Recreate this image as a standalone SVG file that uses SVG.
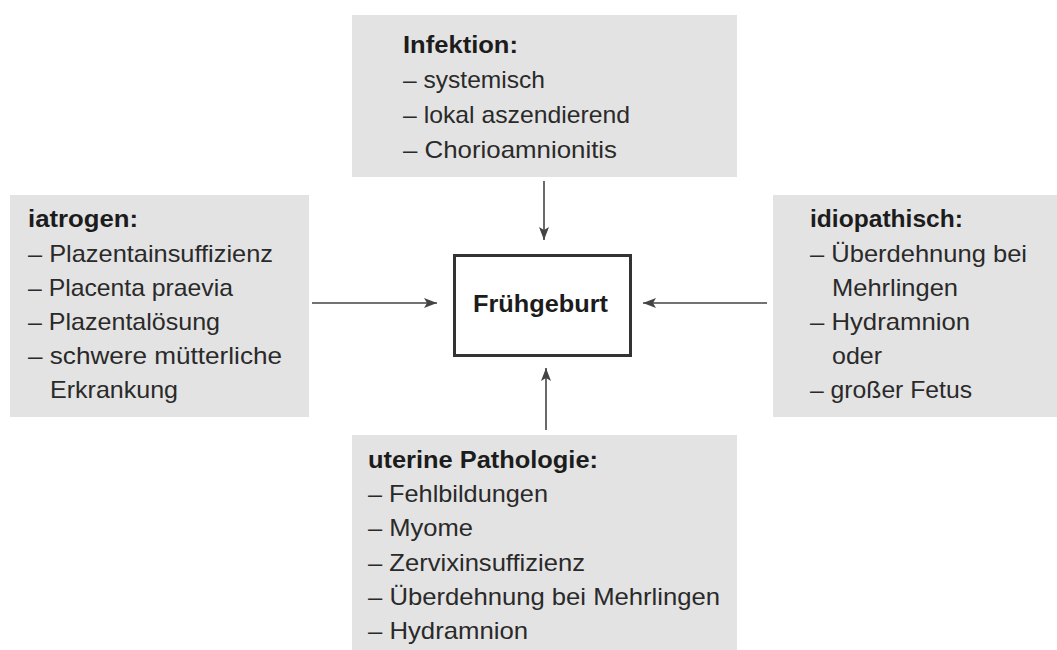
<svg xmlns="http://www.w3.org/2000/svg" width="1057" height="650" viewBox="0 0 1057 650">
<style>
.box{fill:#e3e3e3}
.t{font-family:"Liberation Sans",Arial,sans-serif;font-size:24px;fill:#2a2a2a}
.h{font-weight:bold;fill:#1c1c1c}
.c{stroke:#444;stroke-width:1.6;fill:none}
</style>
<defs>
<marker id="ah" markerUnits="userSpaceOnUse" markerWidth="14" markerHeight="12" viewBox="0 0 14 12" refX="13" refY="6" orient="auto">
<path d="M0,1 L13,6 L0,11 L3,6 Z" fill="#444"/>
</marker>
</defs>
<rect width="1057" height="650" fill="#fff"/>
<g id="infektion">
<rect class="box" x="352" y="15" width="385" height="162"/>
<text class="t h" x="403" y="53" textLength="115" lengthAdjust="spacingAndGlyphs">Infektion:</text>
<text class="t" x="403" y="88" textLength="142" lengthAdjust="spacingAndGlyphs">– systemisch</text>
<text class="t" x="403" y="123" textLength="227" lengthAdjust="spacingAndGlyphs">– lokal aszendierend</text>
<text class="t" x="403" y="158" textLength="214" lengthAdjust="spacingAndGlyphs">– Chorioamnionitis</text>
</g>
<g id="iatrogen">
<rect class="box" x="10" y="195" width="299" height="222"/>
<text class="t h" x="28" y="227" textLength="110" lengthAdjust="spacingAndGlyphs">iatrogen:</text>
<text class="t" x="28" y="262" textLength="245" lengthAdjust="spacingAndGlyphs">– Plazentainsuffizienz</text>
<text class="t" x="28" y="296" textLength="205" lengthAdjust="spacingAndGlyphs">– Placenta praevia</text>
<text class="t" x="28" y="330" textLength="192" lengthAdjust="spacingAndGlyphs">– Plazentalösung</text>
<text class="t" x="28" y="364" textLength="254" lengthAdjust="spacingAndGlyphs">– schwere mütterliche</text>
<text class="t" x="50" y="398" textLength="128" lengthAdjust="spacingAndGlyphs">Erkrankung</text>
</g>
<g id="idiopathisch">
<rect class="box" x="773" y="195" width="284" height="222"/>
<text class="t h" x="810" y="227" textLength="153" lengthAdjust="spacingAndGlyphs">idiopathisch:</text>
<text class="t" x="810" y="262" textLength="217" lengthAdjust="spacingAndGlyphs">– Überdehnung bei</text>
<text class="t" x="832" y="296" textLength="126" lengthAdjust="spacingAndGlyphs">Mehrlingen</text>
<text class="t" x="810" y="330" textLength="160" lengthAdjust="spacingAndGlyphs">– Hydramnion</text>
<text class="t" x="832" y="364" textLength="50" lengthAdjust="spacingAndGlyphs">oder</text>
<text class="t" x="810" y="398" textLength="162" lengthAdjust="spacingAndGlyphs">– großer Fetus</text>
</g>
<g id="uterine">
<rect class="box" x="352" y="435" width="385" height="215"/>
<text class="t h" x="368" y="468" textLength="230" lengthAdjust="spacingAndGlyphs">uterine Pathologie:</text>
<text class="t" x="368" y="502" textLength="180" lengthAdjust="spacingAndGlyphs">– Fehlbildungen</text>
<text class="t" x="368" y="536" textLength="105" lengthAdjust="spacingAndGlyphs">– Myome</text>
<text class="t" x="368" y="571" textLength="217" lengthAdjust="spacingAndGlyphs">– Zervixinsuffizienz</text>
<text class="t" x="368" y="605" textLength="352" lengthAdjust="spacingAndGlyphs">– Überdehnung bei Mehrlingen</text>
<text class="t" x="368" y="639" textLength="160" lengthAdjust="spacingAndGlyphs">– Hydramnion</text>
</g>
<g id="fruehgeburt">
<rect x="454.5" y="255.5" width="176" height="100" fill="#fff" stroke="#333" stroke-width="3"/>
<text class="t h" x="473" y="312" textLength="135" lengthAdjust="spacingAndGlyphs">Frühgeburt</text>
</g>
<g id="connectors">
<line class="c" x1="544" y1="181" x2="544" y2="240" marker-end="url(#ah)"/>
<line class="c" x1="312" y1="303" x2="437" y2="303" marker-end="url(#ah)"/>
<line class="c" x1="767" y1="303" x2="643" y2="303" marker-end="url(#ah)"/>
<line class="c" x1="546" y1="430" x2="546" y2="368" marker-end="url(#ah)"/>
</g>
</svg>
